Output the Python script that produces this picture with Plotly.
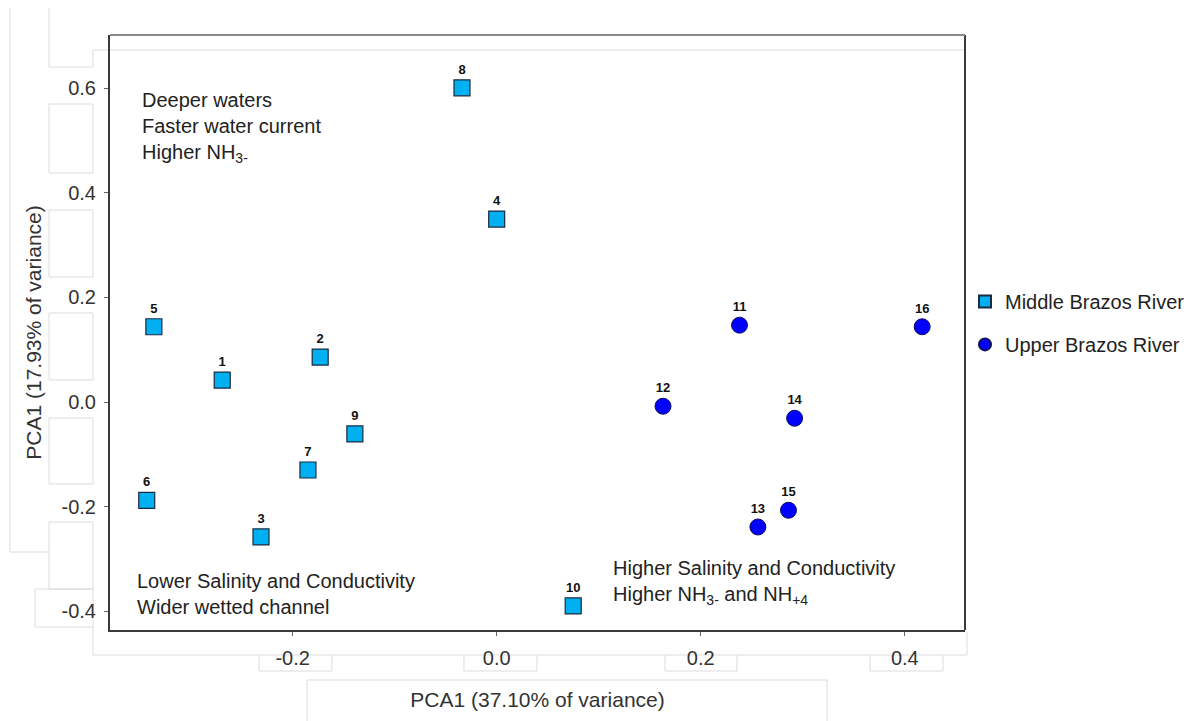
import plotly.graph_objects as go

# Data
mid_labels = ["1", "2", "3", "4", "5", "6", "7", "8", "9", "10"]
mid_x = [-0.269, -0.173, -0.231, 0.000, -0.336, -0.343, -0.185, -0.034, -0.139, 0.075]
mid_y = [0.042, 0.086, -0.258, 0.350, 0.144, -0.188, -0.130, 0.601, -0.061, -0.390]

up_labels = ["11", "12", "13", "14", "15", "16"]
up_x = [0.238, 0.163, 0.256, 0.292, 0.286, 0.417]
up_y = [0.147, -0.008, -0.239, -0.031, -0.207, 0.144]

x_ticks = [-0.2, 0.0, 0.2, 0.4]
x_ticktext = ["-0.2", "0.0", "0.2", "0.4"]
y_ticks = [-0.4, -0.2, 0.0, 0.2, 0.4, 0.6]
y_ticktext = ["-0.4", "-0.2", "0.0", "0.2", "0.4", "0.6"]

FONT = "Liberation Sans, Arial, sans-serif"
W, H = 1195, 721
ML, MR, MT, MB = 110, 230, 35, 91
PW, PH = W - ML - MR, H - MT - MB


def px(x, y):
    return (x - ML) / PW, (H - MB - y) / PH


fig = go.Figure()
fig.add_trace(go.Scatter(
    x=mid_x, y=mid_y, mode="markers+text", name="Middle Brazos River",
    text=[f"<b>{t}</b>" for t in mid_labels], textposition="top center",
    textfont=dict(size=13, color="#111", family=FONT),
    marker=dict(symbol="square", size=16, color="#00b0f0",
                line=dict(color="#1a2a40", width=1.2)),
    legendgroup="a",
))
fig.add_trace(go.Scatter(
    x=up_x, y=up_y, mode="markers+text", name="Upper Brazos River",
    text=[f"<b>{t}</b>" for t in up_labels], textposition="top center",
    textfont=dict(size=13, color="#111", family=FONT),
    marker=dict(symbol="circle", size=16, color="#0000ff",
                line=dict(color="#10105a", width=1)),
    legendgroup="b",
))

ann_font = dict(size=20, color="#222", family=FONT)
ax, ay = px(140, 87)
fig.add_annotation(x=ax, y=ay, xref="paper", yref="paper", xanchor="left", yanchor="top",
                   align="left", showarrow=False, font=ann_font,
                   text="Deeper waters<br>Faster water current<br>Higher NH<sub>3-</sub>")
ax, ay = px(135, 568)
fig.add_annotation(x=ax, y=ay, xref="paper", yref="paper", xanchor="left", yanchor="top",
                   align="left", showarrow=False, font=ann_font,
                   text="Lower Salinity and Conductivity<br>Wider wetted channel")
ax, ay = px(611, 555)
fig.add_annotation(x=ax, y=ay, xref="paper", yref="paper", xanchor="left", yanchor="top",
                   align="left", showarrow=False, font=ann_font,
                   text="Higher Salinity and Conductivity<br>Higher NH<sub>3-</sub> and NH<sub>+4</sub>")

axis_common = dict(showgrid=False, zeroline=False, showline=True, linecolor="#3a3a3a", linewidth=2,
                   ticks="outside", ticklen=4, tickcolor="#666",
                   tickfont=dict(size=20, color="#333", family=FONT))

fig.update_xaxes(range=[-0.379, 0.459], tickvals=x_ticks, ticktext=x_ticktext,
                 ticklabelstandoff=5,
                 title=dict(text="PCA1 (37.10% of variance)", font=dict(size=21, color="#333", family=FONT),
                            standoff=24),
                 **axis_common)
fig.update_yaxes(range=[-0.436, 0.702], tickvals=y_ticks, ticktext=y_ticktext,
                 ticklabelstandoff=4,
                 title=dict(text="PCA1 (17.93% of variance)", font=dict(size=21, color="#333", family=FONT),
                            standoff=14),
                 **axis_common)

shapes = []
# right and top borders of the plot frame
shapes.append(dict(type="line", xref="paper", yref="paper", x0=1, y0=0, x1=1, y1=1,
                   line=dict(color="#3a3a3a", width=2)))
shapes.append(dict(type="line", xref="paper", yref="paper", x0=0, y0=1, x1=1, y1=1,
                   line=dict(color="#8a8a8a", width=2)))

# faint label-box outlines from the original figure
faint = dict(color="#dcdcdc", width=1)


def seg(pts):
    path = ""
    for i, (x, y) in enumerate(pts):
        u, v = px(x, y)
        path += ("M" if i == 0 else "L") + f"{u:.4f},{v:.4f} "
    shapes.append(dict(type="path", xref="paper", yref="paper", path=path, line=faint, layer="below"))


def box(xa, ya, xb, yb):
    seg([(xa, ya), (xb, ya), (xb, yb), (xa, yb), (xa, ya)])


seg([(10, 8), (10, 552), (49, 552)])
seg([(49, 8), (49, 67), (93, 67), (93, 50), (965, 50)])
for ya, yb in [(104, 173), (210, 277), (313, 380), (418, 484), (522, 589)]:
    box(49, ya, 93, yb)
box(35, 589, 93, 627)
seg([(93, 627), (93, 655), (967, 655), (967, 632)])
for xa, xb in [(259, 332), (464, 537), (665, 737), (870, 943)]:
    seg([(xa, 655), (xa, 671), (xb, 671), (xb, 655)])
seg([(307, 721), (307, 680), (827, 680), (827, 721)])

fig.update_layout(
    width=W, height=H,
    margin=dict(l=ML, r=MR, t=MT, b=MB, autoexpand=False),
    paper_bgcolor="white", plot_bgcolor="white",
    font=dict(family=FONT),
    shapes=shapes,
    legend=dict(x=1.0, y=0.585, xanchor="left", yanchor="top", bgcolor="rgba(0,0,0,0)",
                font=dict(size=20, color="#222", family=FONT),
                tracegroupgap=14, traceorder="grouped", itemsizing="constant"),
)

fig.write_html("out.html")
